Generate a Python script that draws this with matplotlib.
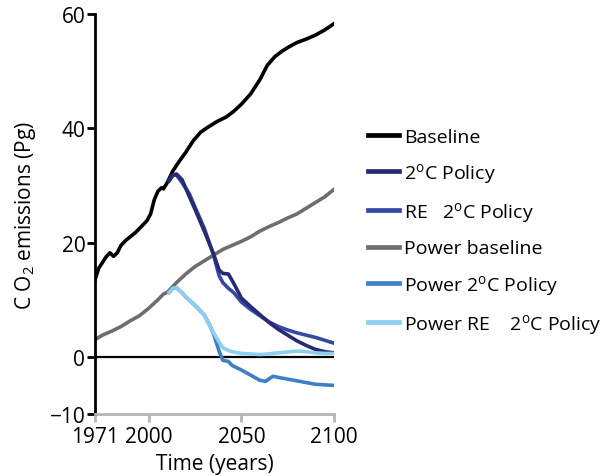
import numpy as np
import matplotlib.pyplot as plt
from matplotlib.lines import Line2D

plt.rcParams['font.family'] = ['Open Sans', 'DejaVu Sans']
plt.rcParams['mathtext.fontset'] = 'custom'
plt.rcParams['mathtext.rm'] = 'Open Sans'
plt.rcParams['mathtext.it'] = 'Open Sans'

# Baseline (total)
base_years = [1971, 1973, 1975, 1977, 1979, 1981, 1983, 1985, 1988, 1990, 1993,
              1996, 1999, 2001, 2003, 2005, 2007, 2008, 2010, 2013, 2016, 2020,
              2024, 2028, 2032, 2037, 2042, 2046, 2050, 2055, 2060, 2064, 2068,
              2072, 2076, 2080, 2085, 2090, 2095, 2100]
base_vals = [13.5, 15.5, 16.5, 17.5, 18.2, 17.6, 18.2, 19.5, 20.5, 21.0, 21.8,
             22.8, 23.8, 25.0, 27.5, 29.0, 29.6, 29.4, 30.5, 32.5, 34.0, 35.8,
             37.8, 39.3, 40.2, 41.2, 42.0, 43.0, 44.2, 46.0, 48.5, 51.0, 52.5,
             53.5, 54.3, 55.0, 55.6, 56.3, 57.2, 58.3]

# 2C policy
pol_years = [2011, 2013, 2015, 2018, 2022, 2025, 2030, 2035, 2038, 2040, 2043,
             2046, 2050, 2055, 2060, 2065, 2070, 2075, 2080, 2085, 2090, 2095, 2100]
pol_vals = [30.8, 31.8, 32.0, 31.0, 28.0, 25.8, 22.0, 18.0, 15.2, 14.6, 14.5,
            12.8, 10.3, 8.8, 7.4, 6.0, 4.8, 3.8, 2.8, 2.0, 1.3, 0.9, 0.7]
re_pol_vals = [30.8, 31.8, 31.8, 30.5, 28.5, 26.2, 22.5, 17.8, 14.2, 13.0, 12.0,
               11.2, 9.6, 8.3, 7.2, 6.1, 5.3, 4.7, 4.2, 3.8, 3.4, 2.9, 2.4]

# Power sector
pb_years = [1971, 1975, 1980, 1985, 1990, 1995, 2000, 2005, 2008, 2010, 2013,
            2015, 2020, 2025, 2030, 2035, 2040, 2045, 2050, 2055, 2060, 2065,
            2070, 2075, 2080, 2085, 2090, 2095, 2100]
pb_vals = [3.0, 3.8, 4.5, 5.3, 6.3, 7.2, 8.5, 10.0, 11.0, 11.3, 12.3,
           13.0, 14.5, 15.8, 16.8, 17.8, 18.8, 19.5, 20.2, 21.0, 22.0, 22.8,
           23.5, 24.3, 25.0, 26.0, 27.0, 28.0, 29.3]

pp_years = [2011, 2013, 2015, 2018, 2020, 2025, 2030, 2033, 2035, 2038, 2040,
            2043, 2045, 2050, 2055, 2060, 2063, 2067, 2070, 2075, 2080, 2085,
            2090, 2095, 2100]
pp_vals = [11.3, 12.0, 12.1, 11.2, 10.5, 9.0, 7.3, 5.5, 4.0, 1.0, -0.6,
           -0.8, -1.5, -2.3, -3.2, -4.1, -4.3, -3.4, -3.6, -3.9, -4.2, -4.5,
           -4.8, -4.9, -5.0]
pre_vals = [11.3, 12.0, 12.1, 11.2, 10.5, 9.0, 7.3, 5.5, 4.2, 2.6, 1.6,
            1.1, 0.9, 0.6, 0.5, 0.4, 0.45, 0.6, 0.7, 0.85, 1.0, 0.9,
            0.7, 0.6, 0.6]

labels = ['Baseline', '2$^{\\rm o}$C Policy', 'RE   2$^{\\rm o}$C Policy',
          'Power baseline', 'Power 2$^{\\rm o}$C Policy',
          'Power RE    2$^{\\rm o}$C Policy']
colors = ['#000000', '#262b73', '#3549a3', '#6e6e6e', '#3f7fc6', '#8dcfee']

fig = plt.figure(figsize=(6.15, 4.77), dpi=100)
ax = fig.add_axes([0.1545, 0.13, 0.3885, 0.8386])

lw = 2.6
ax.axhline(0, color='black', lw=1.6, zorder=1)
ax.plot(base_years, base_vals, color=colors[0], lw=lw)
ax.plot(pb_years, pb_vals, color=colors[3], lw=lw)
ax.plot(pol_years, re_pol_vals, color=colors[2], lw=lw)
ax.plot(pol_years, pol_vals, color=colors[1], lw=lw)
ax.plot(pp_years, pp_vals, color=colors[4], lw=lw)
ax.plot(pp_years, pre_vals, color=colors[5], lw=lw)

ax.set_xlim(1971, 2100)
ax.set_ylim(-10, 60)
ax.set_xticks([1971, 2000, 2050, 2100])
ax.set_yticks([-10, 0, 20, 40, 60])
ax.set_yticklabels(['\u221210', '0', '20', '40', '60'])

for s in ['top', 'right']:
    ax.spines[s].set_visible(False)
ax.spines['left'].set_linewidth(2)
ax.spines['bottom'].set_color('#b5b5b5')
ax.spines['bottom'].set_linewidth(2)
ax.tick_params(axis='y', length=6, width=2, labelsize=15, pad=1)
ax.tick_params(axis='x', length=6, width=2, color='#b5b5b5', labelsize=15, pad=3)

ax.set_xlabel('Time (years)', fontsize=15, labelpad=4)
ax.set_ylabel('C O$_2$ emissions (Pg)', fontsize=15, labelpad=8)

handles = [Line2D([], [], color=c, lw=3.4) for c in colors]
fig.legend(handles, labels, loc='upper left', bbox_to_anchor=(0.585, 0.746),
           frameon=False, fontsize=14, handlelength=1.6, handletextpad=0.3,
           labelspacing=0.78, borderaxespad=0)

fig.savefig('out.png', dpi=100)
